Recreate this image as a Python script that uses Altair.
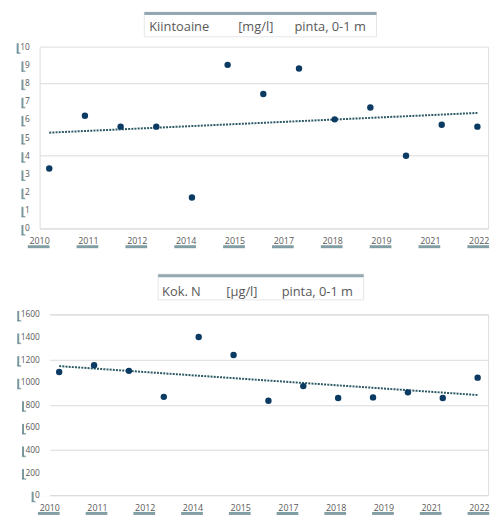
import altair as alt
import pandas as pd

# ---- data ----
sample_year = [2010.47, 2011.47, 2012.47, 2013.47, 2014.47, 2015.47, 2016.47,
               2017.47, 2018.47, 2019.47, 2020.47, 2021.47, 2022.47]
kiintoaine = [3.3, 6.2, 5.6, 5.6, 1.7, 9.0, 7.4, 8.8, 6.0, 6.65, 4.0, 5.7, 5.6]
kok_n = [1090, 1150, 1100, 870, 1400, 1240, 835, 965, 860, 865, 910, 860, 1040]

# x axis: Excel-like date axis, min ~ mid-March 2010, major unit 500 days
axis_start = 2010.2
axis_step = 1.369
x_ticks = [round(axis_start + k * axis_step, 3) for k in range(10)]
x_tick_labels = ["2010", "2011", "2012", "2014", "2015", "2017", "2018", "2019", "2021", "2022"]
x_domain = [2010.2, 2022.77]

top_y_ticks = list(range(0, 11, 1))
bottom_y_ticks = list(range(0, 1601, 200))

LABEL_FONT = "Open Sans"
TITLE_FONT = "Open Sans"
GREY_TXT = "#595959"
PLOT_BG = "#f0f0f0"
GRID = "#d9d9d9"
POINT_COL = "#0b3a63"
TREND_COL = "#2a5864"
SHADOW = "#4b757e"
Y_FS = 8.5
Y_CW = 4.86  # digit width at Y_FS

one = pd.DataFrame({"a": [0]})


def panel(values, y_ticks, width, height, x_off, parts, part_x, box_x, box_top, box_h, text_y):
    ymax = y_ticks[-1]
    df = pd.DataFrame({"year": sample_year, "value": values})
    xs = alt.Scale(domain=x_domain, nice=False, zero=False, range=[x_off, width])
    ys = alt.Scale(domain=[0, ymax], nice=False, zero=True)
    xenc = alt.X("year:Q", scale=xs,
                 axis=alt.Axis(labels=False, grid=False, ticks=False, domain=False, title=None))
    yenc = alt.Y("value:Q", scale=ys,
                 axis=alt.Axis(values=y_ticks, labels=False, grid=True, gridColor=GRID,
                               gridWidth=1, ticks=False, domain=False, title=None))
    base = alt.Chart(df)
    trend = base.transform_regression("year", "value").mark_line(
        strokeDash=[2, 1.2], strokeWidth=2, color=TREND_COL
    ).encode(x=xenc, y=yenc)
    pts = base.mark_circle(size=42, color=POINT_COL, opacity=1).encode(x=xenc, y=yenc)
    layers = [trend]
    if x_off > 0:
        layers.append(alt.Chart(one).mark_rect(fill="white").encode(
            x=alt.value(-1), x2=alt.value(x_off), y=alt.value(-1), y2=alt.value(height + 1)))
    layers.append(pts)

    # y tick labels with an Excel-like box shadow on the left
    y_lab = [str(v) for v in y_ticks]
    ydf = pd.DataFrame({"tick": y_ticks, "label": y_lab, "n": [len(s) for s in y_lab]})
    right = x_off - 10
    for n in sorted(set(ydf["n"])):
        sub = alt.Chart(ydf).transform_filter(alt.datum.n == n)
        left = right - n * Y_CW
        layers.append(sub.mark_tick(orient="vertical", size=10, thickness=2, color=SHADOW,
                                    opacity=0.75, yOffset=1.5).encode(
            x=alt.value(left - 2.5), y=alt.Y("tick:Q", scale=ys)))
        layers.append(sub.mark_tick(orient="horizontal", size=4, thickness=1.5,
                                    color=SHADOW, opacity=0.6, yOffset=6.5).encode(
            x=alt.value(left - 1.5), y=alt.Y("tick:Q", scale=ys)))
    layers.append(alt.Chart(ydf).mark_text(align="right", baseline="middle", font=LABEL_FONT,
                                          fontSize=Y_FS, color=GREY_TXT).encode(
        x=alt.value(right), y=alt.Y("tick:Q", scale=ys), text="label:N"))

    # x tick labels with shadow underneath
    xdf = pd.DataFrame({"tick": x_ticks, "label": x_tick_labels})
    layers.append(alt.Chart(xdf).mark_tick(orient="horizontal", size=22, thickness=3,
                                           color=SHADOW, opacity=0.7, xOffset=-1).encode(
        x=alt.X("tick:Q", scale=xs), y=alt.value(height + 18.5)))
    layers.append(alt.Chart(xdf).mark_text(align="center", baseline="middle", font=LABEL_FONT,
                                          fontSize=9, color=GREY_TXT).encode(
        x=alt.X("tick:Q", scale=xs), y=alt.value(height + 12.8), text="label:N"))

    # title box
    layers.append(alt.Chart(one).mark_rect(fill="white", stroke="#e6e6e6", strokeWidth=1).encode(
        x=alt.value(box_x[0]), x2=alt.value(box_x[1]),
        y=alt.value(box_top), y2=alt.value(box_top + box_h)))
    layers.append(alt.Chart(one).mark_rect(fill="#94a8b1").encode(
        x=alt.value(box_x[0]), x2=alt.value(box_x[1]),
        y=alt.value(box_top), y2=alt.value(box_top + 3)))
    for t, px in zip(parts, part_x):
        layers.append(alt.Chart(one).mark_text(align="left", baseline="alphabetic",
                                               font=TITLE_FONT, fontSize=13,
                                               color=GREY_TXT).encode(
            x=alt.value(px), y=alt.value(text_y), text=alt.value(t)))
    return alt.layer(*layers).properties(width=width, height=height)


top = panel(kiintoaine, top_y_ticks, 454, 184, 0,
            ["Kiintoaine", "[mg/l]", "pinta, 0-1 m"], [111, 201, 258],
            (106, 341), -35, 25, -16)
bottom = panel(kok_n, bottom_y_ticks, 454, 183, 10.3,
               ["Kok. N", "[\u00b5g/l]", "pinta, 0-1 m"], [124, 189, 245],
               (120, 328), -40.7, 26, -19)

chart = alt.vconcat(top, bottom, spacing=24).properties(
    padding={"left": 8, "top": 0, "right": 5, "bottom": 0}
).configure_view(fill=PLOT_BG, stroke=None).configure(background="white")

chart.save("out.html", embed_options={"renderer": "svg", "actions": False})
